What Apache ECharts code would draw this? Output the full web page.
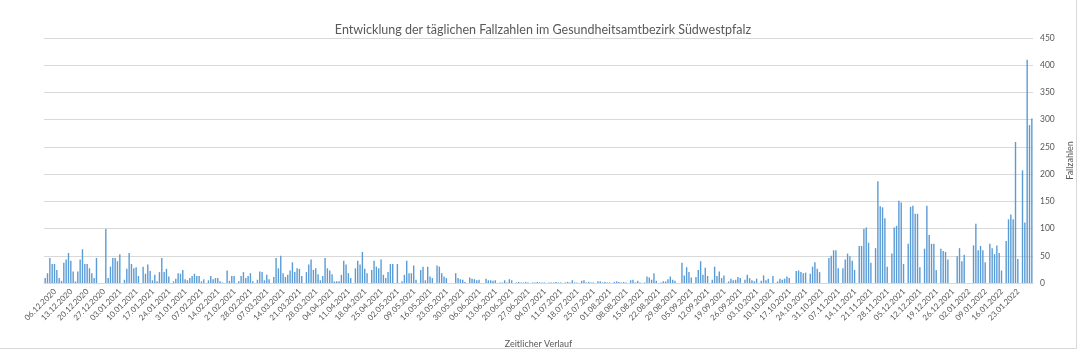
<!DOCTYPE html>
<html>
<head>
<meta charset="utf-8">
<script src="https://cdn.jsdelivr.net/npm/echarts@6/dist/echarts.min.js"></script>
<style>
html,body{margin:0;padding:0;background:#fff;}
#chart{width:1086px;height:356px;}
</style>
</head>
<body>
<div id="chart"></div>
<script>
// ---- Data ----
const chartTitle = 'Entwicklung der täglichen Fallzahlen im Gesundheitsamtbezirk Südwestpfalz';
const xAxisTitle = 'Zeitlicher Verlauf';
const yAxisTitle = 'Fallzahlen';
const firstDay = [2020, 11, 30]; // 30.11.2020
const firstLabelIndex = 6;       // 06.12.2020
const labelStep = 7;             // one label per week
const yTicks = [0, 50, 100, 150, 200, 250, 300, 350, 400, 450];

// daily case numbers, one row per week
const dailyCases = [
  9,18,46,35,35,24,9,
  4,37,43,55,41,21,3,
  21,43,62,35,35,27,18,
  9,46,0,0,0,99,9,
  30,46,46,40,53,0,6,
  26,55,35,27,29,13,0,
  30,17,34,22,5,15,3,
  20,46,20,26,12,0,3,
  8,18,17,24,7,5,9,
  13,17,13,13,3,7,0,
  5,13,7,9,9,3,1,
  0,23,4,13,13,0,3,
  13,20,9,13,18,3,0,
  6,21,20,5,15,7,0,
  11,46,27,50,18,11,15,
  23,38,20,27,26,13,0,
  20,34,43,24,27,16,5,
  13,46,27,23,16,3,3,
  3,15,41,34,18,9,0,
  27,41,34,57,26,18,0,
  24,41,30,27,43,15,9,
  20,35,35,0,35,0,3,
  15,41,18,18,32,6,0,
  24,30,5,30,12,9,0,
  32,30,18,12,9,0,0,
  0,18,9,7,6,2,0,
  10,8,7,5,6,0,0,
  8,5,5,4,5,0,1,
  1,5,1,7,5,0,1,
  2,1,1,2,1,0,1,
  1,2,1,1,1,0,1,
  1,1,2,1,1,0,1,
  2,1,5,1,1,0,4,
  5,1,2,1,1,0,3,
  3,1,2,1,1,0,2,
  3,2,1,2,1,0,5,
  6,1,4,1,0,1,12,
  10,6,18,4,0,1,3,
  3,7,12,6,4,0,0,
  37,14,29,20,10,0,11,
  24,40,15,28,13,0,6,
  30,13,21,9,14,0,3,
  8,5,6,11,9,0,6,
  15,9,5,3,8,0,4,
  14,5,8,0,13,0,3,
  8,6,8,12,9,0,0,
  22,23,20,18,19,0,17,
  30,38,26,20,0,0,0,
  46,50,60,60,27,0,27,
  43,54,49,41,24,0,68,
  68,99,102,74,37,0,64,
  187,141,139,119,30,0,54,
  102,105,151,148,35,0,72,
  140,142,127,127,29,0,63,
  142,88,72,72,24,0,63,
  59,57,43,0,0,0,49,
  64,40,52,0,0,0,69,
  109,60,68,60,38,0,72,
  64,53,69,55,23,0,77,
  117,126,117,259,44,0,207,
  111,410,290,302
];

// categories: one date per day
function pad(n){ return (n < 10 ? '0' : '') + n; }
const categories = dailyCases.map(function(_, i){
  const d = new Date(firstDay[0], firstDay[1] - 1, firstDay[2] + i);
  return pad(d.getDate()) + '.' + pad(d.getMonth() + 1) + '.' + d.getFullYear();
});

const textColor = '#595959';
const gridColor = '#d9d9d9';
const fontFam = 'Lato, "Open Sans", sans-serif';

const chart = echarts.init(document.getElementById('chart'), null, {renderer: 'canvas'});
chart.setOption({
  animation: false,
  backgroundColor: '#ffffff',
  title: {
    text: chartTitle,
    left: 'center',
    top: 18,
    textStyle: {fontFamily: fontFam, fontSize: 12.5, fontWeight: 'normal', color: textColor}
  },
  grid: {left: 44, right: 53, top: 38, bottom: 73, containLabel: false},
  xAxis: {
    type: 'category',
    data: categories,
    name: xAxisTitle,
    nameLocation: 'middle',
    nameGap: 57,
    nameTextStyle: {fontFamily: fontFam, fontSize: 9, color: textColor},
    axisLine: {lineStyle: {color: gridColor}},
    axisTick: {show: false},
    axisLabel: {
      rotate: 45,
      margin: 3,
      padding: [0, 6, 0, 0],
      fontFamily: fontFam,
      fontSize: 8,
      color: textColor,
      interval: function(index){ return index >= firstLabelIndex && (index - firstLabelIndex) % labelStep === 0; }
    }
  },
  yAxis: {
    type: 'value',
    position: 'right',
    min: yTicks[0],
    max: yTicks[yTicks.length - 1],
    interval: yTicks[1] - yTicks[0],
    name: yAxisTitle,
    nameLocation: 'middle',
    nameRotate: 90,
    nameGap: 27,
    nameTextStyle: {fontFamily: fontFam, fontSize: 9, color: textColor},
    axisLine: {show: false},
    axisTick: {show: false},
    splitLine: {lineStyle: {color: gridColor, width: 1}},
    axisLabel: {margin: 7, fontFamily: fontFam, fontSize: 8.5, color: textColor}
  },
  graphic: [
    {type: 'line', shape: {x1: 1076.5, y1: 0, x2: 1076.5, y2: 348.5}, style: {stroke: gridColor, lineWidth: 1}},
    {type: 'line', shape: {x1: 0, y1: 348.5, x2: 1076.5, y2: 348.5}, style: {stroke: gridColor, lineWidth: 1}}
  ],
  series: [{
    type: 'bar',
    data: dailyCases,
    barCategoryGap: '40%',
    itemStyle: {color: '#5b9bd5'}
  }]
});
</script>
</body>
</html>
